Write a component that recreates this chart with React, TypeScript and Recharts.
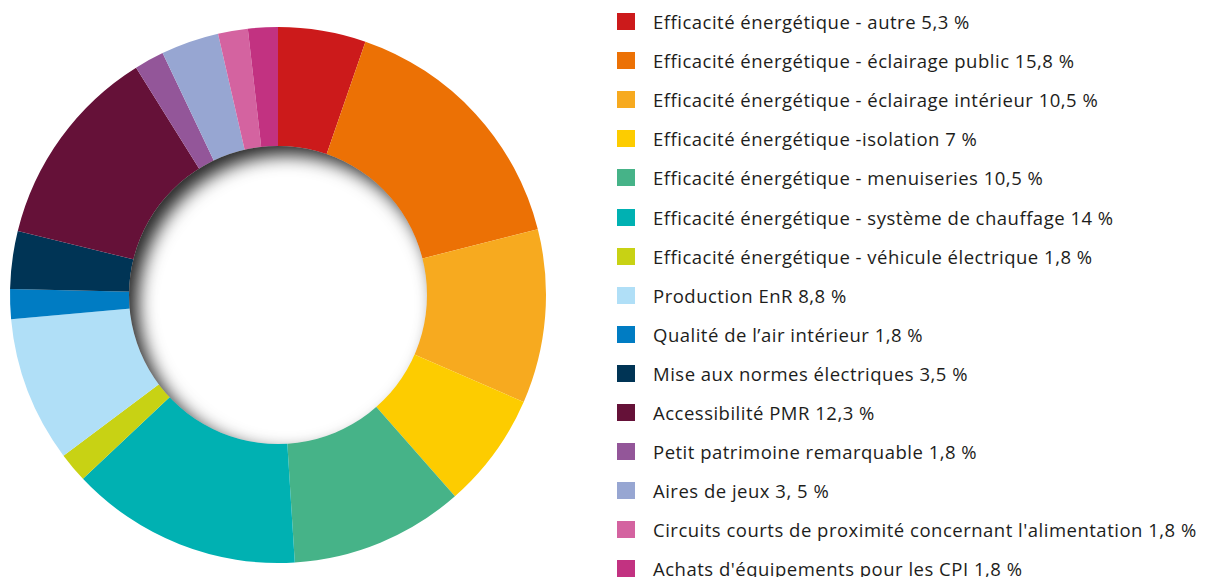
import React from "react";
import { PieChart, Pie, Cell, Legend } from "recharts";

const categories = [
  "Efficacité énergétique - autre",
  "Efficacité énergétique - éclairage public",
  "Efficacité énergétique - éclairage intérieur",
  "Efficacité énergétique -isolation",
  "Efficacité énergétique - menuiseries",
  "Efficacité énergétique - système de chauffage",
  "Efficacité énergétique - véhicule électrique",
  "Production EnR",
  "Qualité de l’air intérieur",
  "Mise aux normes électriques",
  "Accessibilité PMR",
  "Petit patrimoine remarquable",
  "Aires de jeux",
  "Circuits courts de proximité concernant l'alimentation",
  "Achats d'équipements pour les CPI",
];

const shares = [5.3, 15.8, 10.5, 7, 10.5, 14, 1.8, 8.8, 1.8, 3.5, 12.3, 1.8, 3.5, 1.8, 1.8];

const shareLabels = [
  "5,3 %", "15,8 %", "10,5 %", "7 %", "10,5 %", "14 %", "1,8 %", "8,8 %",
  "1,8 %", "3,5 %", "12,3 %", "1,8 %", "3, 5 %", "1,8 %", "1,8 %",
];

const colors = [
  "#cc1a1b", "#ec7105", "#f7aa1f", "#fdcc00", "#46b388", "#00b1b2", "#c8d214",
  "#b0dff7", "#007cc3", "#003455", "#651138", "#935699", "#97a6d2", "#d463a0", "#c23281",
];

const chartData = categories.map((name, i) => ({ name, value: shares[i] }));
const holeData = [{ name: "hole", value: 1 }];

const renderLegend = () => (
  <div
    style={{
      fontFamily: "'Open Sans', sans-serif",
      fontSize: 18.5,
      letterSpacing: 0.5,
      color: "#1d1d1b",
    }}
  >
    {categories.map((name, i) => (
      <div key={name} style={{ display: "flex", alignItems: "center", height: 39.1 }}>
        <span
          style={{
            display: "inline-block",
            width: 18,
            height: 17,
            background: colors[i],
            marginRight: 18,
            flexShrink: 0,
          }}
        />
        <span style={{ whiteSpace: "nowrap" }}>
          {name} {shareLabels[i]}
        </span>
      </div>
    ))}
  </div>
);

const App: React.FC = () => {
  return (
    <PieChart width={1197} height={600} margin={{ top: 0, right: 0, bottom: 0, left: 0 }}>
      <defs>
        <filter
          id="innerShadow"
          x="-20%"
          y="-20%"
          width="140%"
          height="140%"
          colorInterpolationFilters="sRGB"
        >
          <feOffset dx="9" dy="9" in="SourceAlpha" />
          <feGaussianBlur stdDeviation="9" result="offsetBlur" />
          <feComposite operator="out" in="SourceGraphic" in2="offsetBlur" result="inverse" />
          <feFlood floodColor="#000000" floodOpacity="0.85" result="color" />
          <feComposite operator="in" in="color" in2="inverse" result="shadow" />
          <feComposite operator="over" in="shadow" in2="SourceGraphic" />
        </filter>
      </defs>
      <Pie
        data={chartData}
        dataKey="value"
        nameKey="name"
        cx={270}
        cy={287}
        innerRadius={145}
        outerRadius={268}
        startAngle={90}
        endAngle={-270}
        stroke="none"
        isAnimationActive={false}
      >
        {chartData.map((d, i) => (
          <Cell key={d.name} fill={colors[i]} />
        ))}
      </Pie>
      <Pie
        data={holeData}
        dataKey="value"
        cx={270}
        cy={287}
        innerRadius={0}
        outerRadius={149}
        stroke="none"
        isAnimationActive={false}
      >
        <Cell fill="#ffffff" filter="url(#innerShadow)" />
      </Pie>
      <Legend
        content={renderLegend}
        layout="vertical"
        wrapperStyle={{ position: "absolute", left: 609, top: -6, width: 590 }}
      />
    </PieChart>
  );
};

export default App;
